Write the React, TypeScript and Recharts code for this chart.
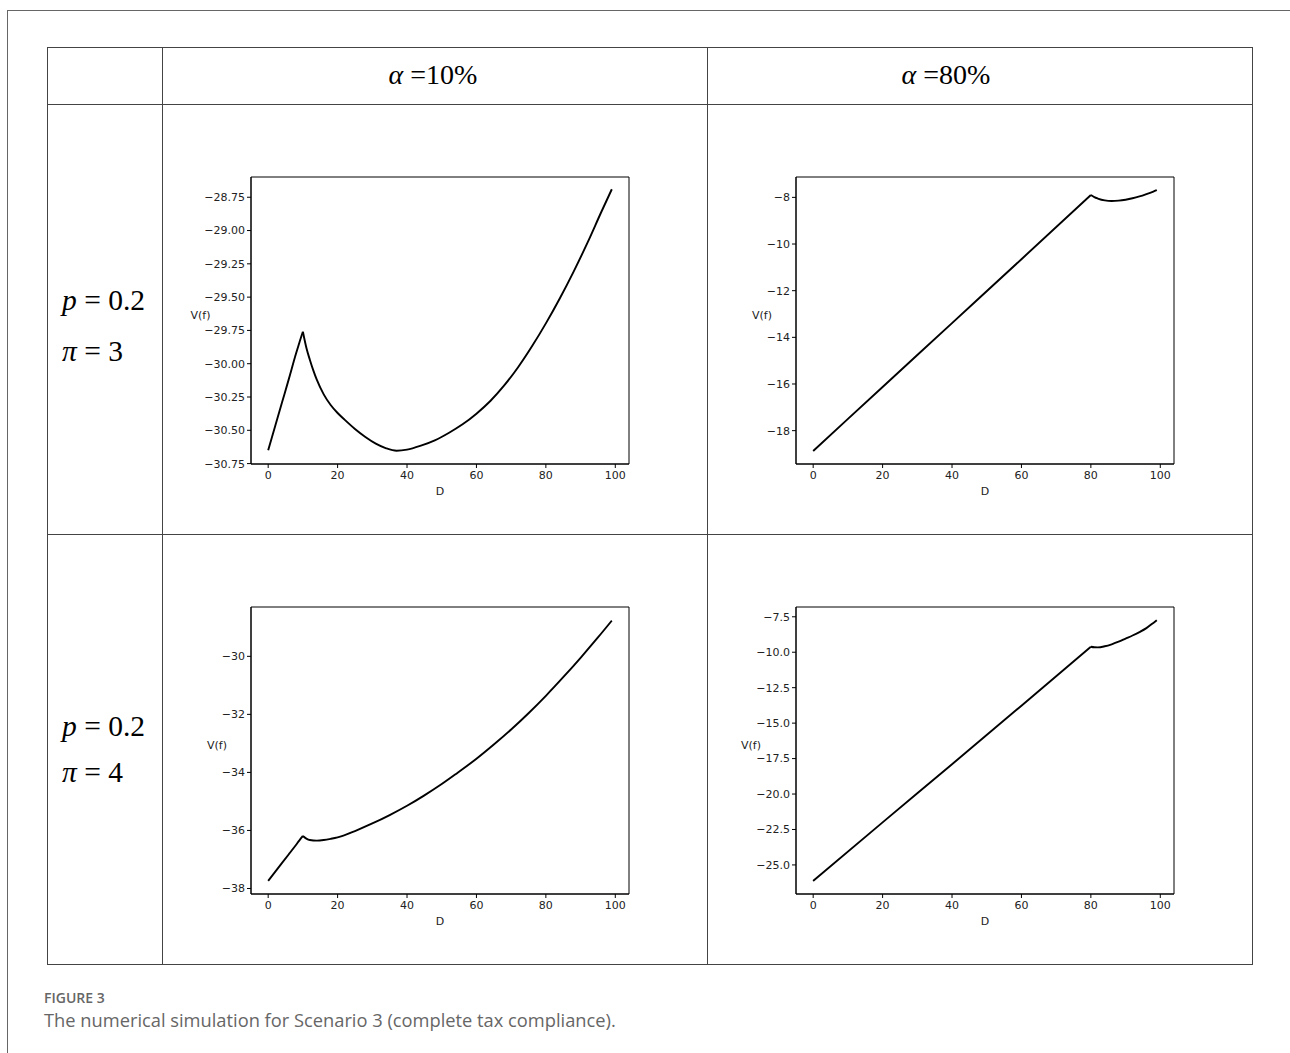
import React from 'react';
import { LineChart, Line, XAxis, YAxis, ReferenceArea } from 'recharts';

// ---- data ----
const xTicks = [0, 20, 40, 60, 80, 100];

// p=0.2, pi=3, alpha=10%  (kink at D=10)
const dTL = [0, 2, 4, 6, 8, 9, 10, 11, 12, 13, 14, 16, 18, 20, 22, 25, 28, 31, 34, 37, 40, 44, 48, 52, 56, 60, 64, 68, 72, 76, 80, 84, 88, 92, 96, 99];
const vTL = [-30.65, -30.47, -30.29, -30.11, -29.925, -29.84, -29.76, -29.88, -29.97, -30.05, -30.12, -30.23, -30.31, -30.37, -30.42, -30.49, -30.55, -30.6, -30.635, -30.653, -30.645, -30.615, -30.575, -30.52, -30.455, -30.375, -30.28, -30.163, -30.026, -29.869, -29.697, -29.51, -29.308, -29.091, -28.859, -28.69];
const kinkTL = 10;
const yTicksTL = [-30.75, -30.5, -30.25, -30, -29.75, -29.5, -29.25, -29, -28.75];

// p=0.2, pi=3, alpha=80%  (kink at D=80)
const dTR = [0, 20, 40, 60, 80, 81, 82, 84, 86, 88, 90, 92, 94, 96, 98, 99];
const vTR = [-18.87, -16.13, -13.39, -10.65, -7.9, -7.99, -8.05, -8.13, -8.155, -8.14, -8.1, -8.04, -7.96, -7.86, -7.75, -7.69];
const kinkTR = 80;
const yTicksTR = [-18, -16, -14, -12, -10, -8];

// p=0.2, pi=4, alpha=10%  (kink at D=10)
const dBL = [0, 2, 4, 6, 8, 9, 10, 11, 12, 14, 16, 18, 20, 25, 30, 35, 40, 45, 50, 54, 60, 65, 70, 75, 80, 85, 90, 95, 99];
const vBL = [-37.74, -37.43, -37.12, -36.81, -36.5, -36.34, -36.19, -36.28, -36.33, -36.35, -36.33, -36.29, -36.24, -36.02, -35.76, -35.47, -35.15, -34.79, -34.4, -34.06, -33.53, -33.04, -32.52, -31.96, -31.36, -30.72, -30.05, -29.35, -28.77];
const kinkBL = 10;
const yTicksBL = [-38, -36, -34, -32, -30];

// p=0.2, pi=4, alpha=80%  (kink at D=80)
const dBR = [0, 20, 40, 60, 80, 81, 82, 84, 86, 88, 90, 92, 94, 96, 98, 99];
const vBR = [-26.13, -22.0, -17.9, -13.77, -9.61, -9.65, -9.66, -9.58, -9.44, -9.26, -9.04, -8.82, -8.58, -8.3, -7.93, -7.74];
const kinkBR = 80;
const yTicksBR = [-25, -22.5, -20, -17.5, -15, -12.5, -10, -7.5];

const colHeaders = ['10%', '80%'];
const rowP = ['0.2', '0.2'];
const rowPi = ['3', '4'];

// ---- layout ----
const X_DOMAIN: [number, number] = [-4.95, 103.95];
const ML = 80;
const MT = 8;
const MR = 8;
const AXH = 36;
const PLOT_W = 378;
const PLOT_H = 287;
const tickFont = { fill: '#222', fontSize: 11, fontFamily: 'DejaVu Sans' };

const fmt = (dec: number) => (n: number) => (n < 0 ? '\u2212' : '') + Math.abs(n).toFixed(dec);

type PanelProps = {
  left: number;
  top: number;
  d: number[];
  v: number[];
  kink: number;
  yTicks: number[];
  yDomain: [number, number];
  dec: number;
  labelGap: number;
};

function Panel({ left, top, d, v, kink, yTicks, yDomain, dec, labelGap }: PanelProps) {
  const data = d.map((x, i) => ({
    D: x,
    A: x <= kink ? v[i] : null,
    B: x >= kink ? v[i] : null,
  }));
  const width = ML + PLOT_W + MR;
  const height = MT + PLOT_H + AXH;
  const vLabel = (props: any) => {
    const vb = props.viewBox || {};
    return (
      <text
        x={vb.x + vb.width - labelGap}
        y={vb.y + vb.height / 2 - 5}
        textAnchor="middle"
        dominantBaseline="central"
        fill="#222"
        fontSize={11}
        fontFamily="DejaVu Sans"
      >
        V(f)
      </text>
    );
  };
  return (
    <div style={{ position: 'absolute', left: left - ML, top: top - MT }}>
      <LineChart width={width} height={height} data={data} margin={{ top: MT, right: MR, left: 0, bottom: 0 }}>
        <XAxis
          dataKey="D"
          type="number"
          domain={X_DOMAIN}
          ticks={xTicks}
          interval={0}
          allowDataOverflow
          height={AXH}
          tickSize={4}
          tickMargin={3}
          stroke="#000"
          tickLine={{ stroke: '#000' }}
          tick={tickFont}
          tickFormatter={(n: number) => String(n)}
          label={{ value: 'D', position: 'insideBottom', offset: 5, fill: '#222', fontSize: 11, fontFamily: 'DejaVu Sans' }}
        />
        <YAxis
          type="number"
          domain={yDomain}
          ticks={yTicks}
          interval={0}
          allowDataOverflow
          width={ML}
          tickSize={4}
          tickMargin={2}
          stroke="#000"
          tickLine={{ stroke: '#000' }}
          tick={tickFont}
          tickFormatter={fmt(dec)}
          label={vLabel}
        />
        <ReferenceArea
          x1={X_DOMAIN[0]}
          x2={X_DOMAIN[1]}
          y1={yDomain[0]}
          y2={yDomain[1]}
          fill="none"
          fillOpacity={0}
          stroke="#000"
          strokeWidth={1}
          ifOverflow="visible"
        />
        <Line
          dataKey="A"
          type="monotone"
          stroke="#000"
          strokeWidth={1.9}
          dot={false}
          activeDot={false}
          connectNulls={false}
          isAnimationActive={false}
        />
        <Line
          dataKey="B"
          type="monotone"
          stroke="#000"
          strokeWidth={1.9}
          dot={false}
          activeDot={false}
          connectNulls={false}
          isAnimationActive={false}
        />
      </LineChart>
    </div>
  );
}

const line = (style: React.CSSProperties) => (
  <div style={{ position: 'absolute', background: '#444', ...style }} />
);

const serif = '"Liberation Serif", "Times New Roman", serif';

export default function App() {
  const T_LEFT = 47;
  const T_TOP = 46.5;
  const T_RIGHT = 1252;
  const T_BOTTOM = 964;
  const C1 = 161.5;
  const C2 = 707;
  const R1 = 103.5;
  const R2 = 534;
  return (
    <div style={{ position: 'absolute', left: 0, top: 0, width: 1290, height: 1053, background: '#fff', overflow: 'hidden' }}>
      {/* outer frame */}
      <div style={{ position: 'absolute', left: 7, top: 10, width: 1, height: 1043, background: '#666' }} />
      <div style={{ position: 'absolute', left: 7, top: 10, width: 1283, height: 1, background: '#666' }} />

      {/* table lines */}
      {line({ left: T_LEFT, top: T_TOP, width: T_RIGHT - T_LEFT, height: 1 })}
      {line({ left: T_LEFT, top: R1, width: T_RIGHT - T_LEFT, height: 1 })}
      {line({ left: T_LEFT, top: R2, width: T_RIGHT - T_LEFT, height: 1 })}
      {line({ left: T_LEFT, top: T_BOTTOM, width: T_RIGHT - T_LEFT + 1, height: 1 })}
      {line({ left: T_LEFT, top: T_TOP, width: 1, height: T_BOTTOM - T_TOP })}
      {line({ left: C1, top: T_TOP, width: 1, height: T_BOTTOM - T_TOP })}
      {line({ left: C2, top: T_TOP, width: 1, height: T_BOTTOM - T_TOP })}
      {line({ left: T_RIGHT, top: T_TOP, width: 1, height: T_BOTTOM - T_TOP })}

      <svg style={{ position: 'absolute', left: 0, top: 0 }} width={1290} height={1053}>
        {/* column headers */}
        <text x={433} y={84} textAnchor="middle" fontFamily={serif} fontSize={28} fill="#000">
          <tspan fontStyle="italic">α</tspan>
          <tspan> ={colHeaders[0]}</tspan>
        </text>
        <text x={946} y={84} textAnchor="middle" fontFamily={serif} fontSize={28} fill="#000">
          <tspan fontStyle="italic">α</tspan>
          <tspan> ={colHeaders[1]}</tspan>
        </text>
        {/* row labels */}
        <text x={62} y={310} fontFamily={serif} fontSize={29.5} fill="#000">
          <tspan fontStyle="italic">p</tspan>
          <tspan> = {rowP[0]}</tspan>
        </text>
        <text x={62} y={361} fontFamily={serif} fontSize={29.5} fill="#000">
          <tspan fontStyle="italic">π</tspan>
          <tspan> = {rowPi[0]}</tspan>
        </text>
        <text x={62} y={736} fontFamily={serif} fontSize={29.5} fill="#000">
          <tspan fontStyle="italic">p</tspan>
          <tspan> = {rowP[1]}</tspan>
        </text>
        <text x={62} y={782} fontFamily={serif} fontSize={29.5} fill="#000">
          <tspan fontStyle="italic">π</tspan>
          <tspan> = {rowPi[1]}</tspan>
        </text>
        {/* caption */}
        <text x={44} y={1003} fontFamily='"Open Sans", sans-serif' fontSize={14} fontWeight={600} fill="#666">
          FIGURE 3
        </text>
        <text x={44} y={1027} fontFamily='"Open Sans", sans-serif' fontSize={18.3} fill="#666">
          The numerical simulation for Scenario 3 (complete tax compliance).
        </text>
      </svg>

      <Panel left={251} top={177} d={dTL} v={vTL} kink={kinkTL} yTicks={yTicksTL} yDomain={[-30.753, -28.598]} dec={2} labelGap={50.5} />
      <Panel left={796} top={177} d={dTR} v={vTR} kink={kinkTR} yTicks={yTicksTR} yDomain={[-19.43, -7.127]} dec={0} labelGap={34} />
      <Panel left={251} top={607} d={dBL} v={vBL} kink={kinkBL} yTicks={yTicksBL} yDomain={[-38.19, -28.3]} dec={0} labelGap={34} />
      <Panel left={796} top={607} d={dBR} v={vBR} kink={kinkBR} yTicks={yTicksBR} yDomain={[-27.05, -6.81]} dec={1} labelGap={45} />
    </div>
  );
}
